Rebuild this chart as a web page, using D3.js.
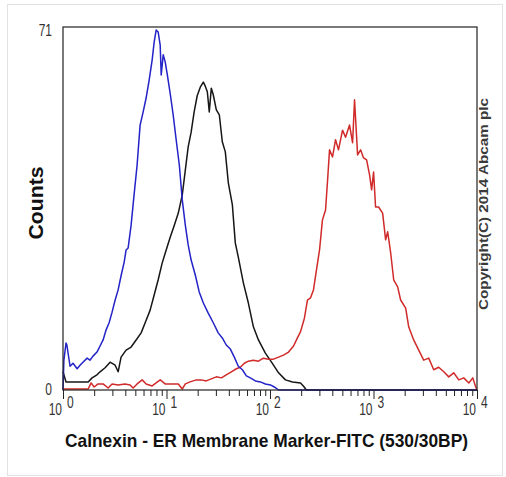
<!DOCTYPE html>
<html>
<head>
<meta charset="utf-8">
<script src="https://cdn.jsdelivr.net/npm/d3@7"></script>
<style>
  body { margin: 0; background: #fff; }
  svg { display: block; font-family: Arial, "Liberation Sans", sans-serif; }
</style>
</head>
<body>
<div id="chart"></div>
<script>
"use strict";

// [fluorescence, counts]
const blueSeries = [
    [1.00, 0], [1.02, 5.9], [1.07, 9.3], [1.09, 8.9], [1.17, 4.7], [1.25, 5.3], [1.37, 4.2], [1.46, 4.9],
    [1.56, 5.5], [1.71, 6.3], [1.82, 5.9], [1.95, 6.7], [2.13, 7.5], [2.28, 8.7], [2.44, 9.9], [2.61, 11.9],
    [2.79, 13.3], [2.98, 15.4], [3.19, 17.8], [3.41, 19.8], [3.64, 22.6], [3.90, 25.3], [4.07, 27.7], [4.26, 28.1],
    [4.55, 32.6], [4.86, 38.6], [5.20, 44.5], [5.56, 52.4], [5.95, 55.0], [6.36, 57.8], [6.80, 61.3], [7.27, 65.3],
    [7.60, 68.8], [7.94, 71.2], [8.31, 70.8], [8.69, 68.2], [8.89, 62.3], [9.29, 66.3], [9.71, 64.9], [10.2, 62.3],
    [10.9, 58.4], [11.6, 54.4], [12.4, 49.5], [13.3, 44.5], [14.2, 37.6], [15.2, 32.6], [16.2, 28.7], [17.3, 25.7],
    [19.0, 22.7], [20.7, 19.4], [22.7, 17.2], [25.3, 15.2], [28.3, 13.3], [31.6, 11.3], [34.6, 10.3], [37.8, 8.9],
    [41.4, 8.1], [45.2, 6.5], [49.4, 4.7], [54.1, 4.0], [59.1, 2.8], [64.6, 2.4], [72.2, 1.8], [80.7, 1.6],
    [90.2, 1.2], [101, 1.0], [110, 0.6], [121, 0], [10000, 0]
];

const blackSeries = [
    [1.00, 3.6], [1.07, 1.6], [1.75, 1.6], [1.91, 2.4], [2.13, 3.0], [2.28, 3.6], [2.55, 4.4], [2.85, 5.5],
    [3.19, 4.9], [3.41, 3.6], [3.64, 6.5], [4.07, 7.9], [4.55, 8.5], [5.09, 9.9], [5.69, 11.3], [6.36, 13.8],
    [6.95, 15.8], [7.60, 18.8], [8.31, 21.8], [9.08, 25.1], [9.93, 27.7], [10.9, 30.3], [11.9, 32.6], [13.0, 35.0],
    [14.2, 38.6], [15.2, 43.5], [16.2, 48.1], [17.3, 51.0], [18.5, 55.0], [19.8, 58.2], [21.2, 59.9], [22.7, 60.9],
    [23.7, 60.1], [24.8, 59.0], [25.9, 55.0], [27.1, 59.7], [28.3, 58.4], [30.3, 55.4], [32.4, 54.4], [34.6, 49.1],
    [37.0, 47.1], [39.6, 40.9], [43.3, 36.6], [46.2, 29.1], [49.4, 26.3], [55.3, 21.2], [61.8, 17.2], [69.1, 12.5],
    [77.3, 9.9], [90.2, 7.3], [105, 5.3], [121, 3.4], [141, 2.0], [165, 1.6], [197, 1.4], [210, 0.8],
    [225, 0], [10000, 0]
];

const redSeries = [
    [1.00, 0.2], [1.75, 0.2], [1.87, 1.4], [2.00, 0.6], [2.18, 1.2], [2.44, 1.2], [2.73, 0.4], [2.98, 1.2],
    [3.41, 1.0], [3.98, 1.2], [4.45, 1.0], [4.76, 0.4], [5.20, 1.2], [5.82, 2.0], [6.36, 1.2], [7.27, 0.8],
    [7.94, 1.4], [8.69, 2.0], [9.71, 1.2], [11.4, 1.2], [13.0, 1.2], [14.2, 0.2], [15.2, 1.2], [16.9, 1.6],
    [19.4, 2.0], [21.7, 2.0], [24.2, 1.8], [27.1, 2.2], [30.3, 2.6], [33.9, 2.4], [37.8, 3.0], [42.3, 3.6],
    [47.3, 4.2], [51.7, 4.5], [56.5, 5.3], [61.8, 5.7], [69.1, 5.9], [77.3, 5.7], [86.3, 6.3], [96.6, 6.1],
    [108, 6.1], [121, 6.5], [135, 6.9], [151, 7.5], [169, 8.7], [184, 10.3], [197, 11.5], [215, 14.2],
    [230, 17.8], [246, 18.2], [263, 19.8], [281, 23.7], [301, 27.7], [321, 33.6], [344, 35.6], [360, 41.5],
    [376, 47.5], [402, 46.1], [430, 49.5], [459, 47.5], [502, 51.4], [537, 50.0], [587, 52.4], [628, 48.9],
    [656, 57.4], [702, 46.5], [750, 47.5], [802, 45.9], [858, 45.5], [917, 42.5], [959, 39.6], [1002, 43.1],
    [1047, 36.2], [1120, 36.2], [1225, 35.0], [1310, 29.7], [1371, 31.3], [1466, 27.1], [1567, 21.8], [1711, 20.4],
    [1829, 17.8], [2046, 16.2], [2188, 12.5], [2445, 9.9], [2735, 7.9], [3055, 5.9], [3415, 6.3], [3819, 4.0],
    [4266, 4.5], [4775, 3.6], [5333, 2.6], [5957, 3.4], [6668, 2.0], [7447, 2.4], [8337, 1.4], [9100, 2.4],
    [9727, 0.6], [10000, 0]
];

const xDecades = [0, 1, 2, 3, 4];
const yTickLabels = [0, 71];
const xTitle = "Calnexin - ER Membrane Marker-FITC (530/30BP)";
const yTitle = "Counts";
const copyright = "Copyright(C) 2014 Abcam plc";

const W = 506, H = 477;
const margin = {top: 27, right: 29, bottom: 87, left: 63};

const x = d3.scaleLog()
    .domain([1, 10000])
    .range([margin.left, W - margin.right]);

const y = d3.scaleLinear()
    .domain([0, 71.8])
    .range([H - margin.bottom, margin.top]);

const svg = d3.select("#chart").append("svg")
    .attr("width", W)
    .attr("height", H);

// faint outer frame of the picture
svg.append("rect")
    .attr("x", 7.5).attr("y", 4.5)
    .attr("width", 495).attr("height", 471)
    .attr("fill", "none")
    .attr("stroke", "#e2e2e2");

const line = d3.line()
    .x(d => x(d[0]))
    .y(d => y(d[1]));

const series = [
    {data: blackSeries, color: "#161616"},
    {data: redSeries, color: "#d02a2a"},
    {data: blueSeries, color: "#2323c8"}
];

svg.selectAll("path.hist")
    .data(series)
    .enter().append("path")
    .attr("class", "hist")
    .attr("fill", "none")
    .attr("stroke", d => d.color)
    .attr("stroke-width", 1.5)
    .attr("stroke-linejoin", "round")
    .attr("d", d => line(d.data));

// plot frame
svg.append("rect")
    .attr("x", x.range()[0]).attr("y", margin.top)
    .attr("width", x.range()[1] - x.range()[0])
    .attr("height", y.range()[0] - margin.top)
    .attr("fill", "none")
    .attr("stroke", "#222")
    .attr("stroke-width", 1.2);

// x ticks: minor and major
const minorTicks = [];
xDecades.slice(0, -1).forEach(d => {
    for (let m = 2; m <= 9; m++) minorTicks.push(m * Math.pow(10, d));
});
const majorTicks = xDecades.map(d => Math.pow(10, d));

svg.append("g")
    .attr("transform", "translate(0," + y(0) + ")")
    .call(d3.axisBottom(x).tickValues(minorTicks).tickSize(6).tickFormat(""))
    .call(g => g.select(".domain").remove())
    .call(g => g.selectAll("line").attr("stroke", "#222"));

svg.append("g")
    .attr("transform", "translate(0," + y(0) + ")")
    .call(d3.axisBottom(x).tickValues(majorTicks).tickSize(9).tickFormat(""))
    .call(g => g.select(".domain").remove())
    .call(g => g.selectAll("line").attr("stroke", "#222"));

// x tick labels 10^n
const xl = svg.append("g").attr("fill", "#333").attr("font-size", 16);
xDecades.forEach(d => {
    const px = x(Math.pow(10, d));
    xl.append("text")
        .attr("transform", "translate(" + (px - 1) + ",415) scale(0.75,1)")
        .attr("text-anchor", "end")
        .text("10");
    xl.append("text")
        .attr("transform", "translate(" + (px + 4) + ",408) scale(0.75,1)")
        .text(d);
});

// y tick labels
svg.append("g").attr("fill", "#333").attr("font-size", 16)
    .selectAll("text")
    .data(yTickLabels)
    .enter().append("text")
    .attr("transform", d => "translate(52," + (y(d) + 5) + ") scale(0.75,1)")
    .attr("text-anchor", "end")
    .text(d => d);

// axis titles
svg.append("text")
    .attr("x", 266.5).attr("y", 447)
    .attr("text-anchor", "middle")
    .attr("font-weight", "bold")
    .attr("font-size", 19)
    .attr("fill", "#111")
    .attr("textLength", 403)
    .attr("lengthAdjust", "spacingAndGlyphs")
    .text(xTitle);

svg.append("text")
    .attr("transform", "translate(43,203) rotate(-90)")
    .attr("text-anchor", "middle")
    .attr("font-weight", "bold")
    .attr("font-size", 20)
    .attr("fill", "#111")
    .attr("textLength", 73)
    .attr("lengthAdjust", "spacingAndGlyphs")
    .text(yTitle);

svg.append("text")
    .attr("transform", "translate(488,204) rotate(-90)")
    .attr("text-anchor", "middle")
    .attr("font-weight", "bold")
    .attr("font-size", 12)
    .attr("fill", "#3a3a3a")
    .attr("textLength", 212)
    .attr("lengthAdjust", "spacingAndGlyphs")
    .text(copyright);
</script>
</body>
</html>
